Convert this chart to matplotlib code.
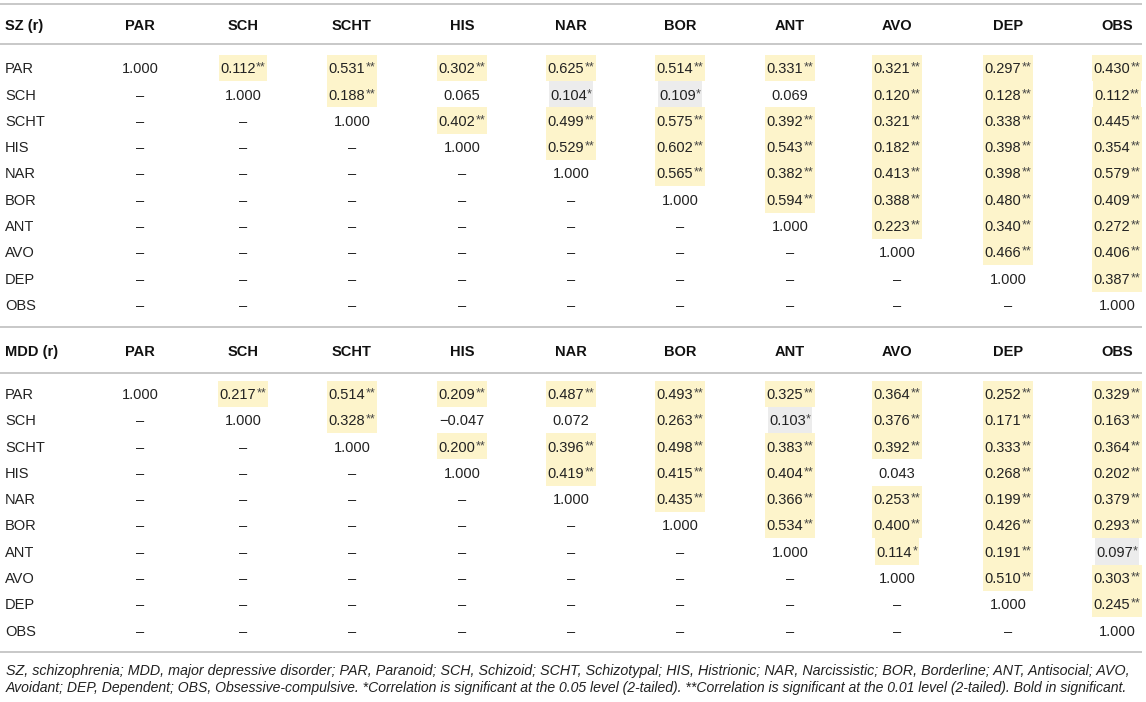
import matplotlib
matplotlib.use("Agg")
import matplotlib.pyplot as plt
from matplotlib.patches import Rectangle

plt.rcParams['font.family'] = ['Liberation Sans', 'DejaVu Sans']

traits = ["PAR", "SCH", "SCHT", "HIS", "NAR", "BOR", "ANT", "AVO", "DEP", "OBS"]

# upper triangle of each matrix, row by row, starting at the diagonal
sz_rows = [
    ["1.000", "0.112**", "0.531**", "0.302**", "0.625**", "0.514**", "0.331**", "0.321**", "0.297**", "0.430**"],
    ["1.000", "0.188**", "0.065", "0.104*", "0.109*", "0.069", "0.120**", "0.128**", "0.112**"],
    ["1.000", "0.402**", "0.499**", "0.575**", "0.392**", "0.321**", "0.338**", "0.445**"],
    ["1.000", "0.529**", "0.602**", "0.543**", "0.182**", "0.398**", "0.354**"],
    ["1.000", "0.565**", "0.382**", "0.413**", "0.398**", "0.579**"],
    ["1.000", "0.594**", "0.388**", "0.480**", "0.409**"],
    ["1.000", "0.223**", "0.340**", "0.272**"],
    ["1.000", "0.466**", "0.406**"],
    ["1.000", "0.387**"],
    ["1.000"],
]

mdd_rows = [
    ["1.000", "0.217**", "0.514**", "0.209**", "0.487**", "0.493**", "0.325**", "0.364**", "0.252**", "0.329**"],
    ["1.000", "0.328**", "\u22120.047", "0.072", "0.263**", "0.103*", "0.376**", "0.171**", "0.163**"],
    ["1.000", "0.200**", "0.396**", "0.498**", "0.383**", "0.392**", "0.333**", "0.364**"],
    ["1.000", "0.419**", "0.415**", "0.404**", "0.043", "0.268**", "0.202**"],
    ["1.000", "0.435**", "0.366**", "0.253**", "0.199**", "0.379**"],
    ["1.000", "0.534**", "0.400**", "0.426**", "0.293**"],
    ["1.000", "0.114*", "0.191**", "0.097*"],
    ["1.000", "0.510**", "0.303**"],
    ["1.000", "0.245**"],
    ["1.000"],
]

# a '*' cell that the source table still marks in yellow
yellow_cells = {("MDD", 6, 7)}

footnote = [
    "SZ, schizophrenia; MDD, major depressive disorder; PAR, Paranoid; SCH, Schizoid; "
    "SCHT, Schizotypal; HIS, Histrionic; NAR, Narcissistic; BOR, Borderline; ANT, Antisocial; AVO,",
    "Avoidant; DEP, Dependent; OBS, Obsessive-compulsive. *Correlation is significant at the 0.05 "
    "level (2-tailed). **Correlation is significant at the 0.01 level (2-tailed). Bold in significant.",
]

W, H = 1146, 702
col_x = [140, 243, 352, 462, 571, 680, 790, 897, 1008, 1117]
row_step = 26.3
fs = 10.5
fs_px = fs * 100 / 72
text_c = '#222222'
yellow = '#fdf4cb'
grey = '#ececec'
line_c = '#c4c4c4'

fig = plt.figure(figsize=(W / 100, H / 100), dpi=100)
ax = fig.add_axes([0, 0, 1, 1])
ax.set_xlim(0, W)
ax.set_ylim(H, 0)
ax.axis('off')
rend = fig.canvas.get_renderer()


def hline(y):
    ax.plot([0, 1142], [y, y], color=line_c, lw=1.3, solid_capstyle='butt')


def width_of(t):
    return t.get_window_extent(rend).width


def cell(cx, cy, s, bg=None):
    num = s.rstrip('*')
    stars = s[len(num):]
    base = cy + 0.716 * fs_px / 2
    t1 = ax.text(0, base, num, fontsize=fs, color=text_c, ha='left', va='baseline', zorder=3)
    w1 = width_of(t1)
    w2 = 0
    t2 = None
    if stars:
        t2 = ax.text(0, base - 2.5, stars, fontsize=9, color='#444444', ha='left', va='baseline', zorder=3)
        w2 = width_of(t2)
    x0 = cx - (w1 + w2) / 2
    t1.set_x(x0)
    if t2 is not None:
        t2.set_x(x0 + w1)
    if bg:
        ax.add_patch(Rectangle((x0 - 1.5, cy - row_step / 2), w1 + w2 + 3, row_step,
                               facecolor=bg, edgecolor='none', zorder=1))


def block(name, rows, y_head):
    ax.text(5, y_head + 0.716 * fs_px / 2, name + " (r)", fontsize=fs, fontweight='bold',
            color='#111111', ha='left', va='baseline')
    for j, tr in enumerate(traits):
        ax.text(col_x[j], y_head + 0.716 * fs_px / 2, tr, fontsize=fs, fontweight='bold',
                color='#111111', ha='center', va='baseline')
    y_first = y_head + 43
    for i, tr in enumerate(traits):
        cy = y_first + i * row_step
        ax.text(5, cy + 0.716 * fs_px / 2, tr, fontsize=fs, color=text_c, ha='left', va='baseline')
        for j in range(len(traits)):
            if j < i:
                cell(col_x[j], cy, "\u2013")
                continue
            s = rows[i][j - i]
            bg = None
            if s.endswith('**') or (name, i, j) in yellow_cells:
                bg = yellow
            elif s.endswith('*'):
                bg = grey
            cell(col_x[j], cy, s, bg)
    return y_first + 9 * row_step


hline(4)
hline(44)
y_end = block("SZ", sz_rows, 25)
hline(y_end + 22)
y_mdd = y_end + 46
hline(y_mdd + 22)
y_end = block("MDD", mdd_rows, y_mdd)
y_rule = y_end + 22
hline(y_rule)

# fit each footnote line to the table width
for k, line in enumerate(footnote):
    probe = ax.text(0, 0, line, fontsize=10, style='italic')
    size = 10 * 1133 / width_of(probe)
    probe.remove()
    ax.text(6, y_rule + 19 + k * 17, line, fontsize=size, style='italic', color=text_c,
            ha='left', va='center')

fig.savefig("out.png", dpi=100)
